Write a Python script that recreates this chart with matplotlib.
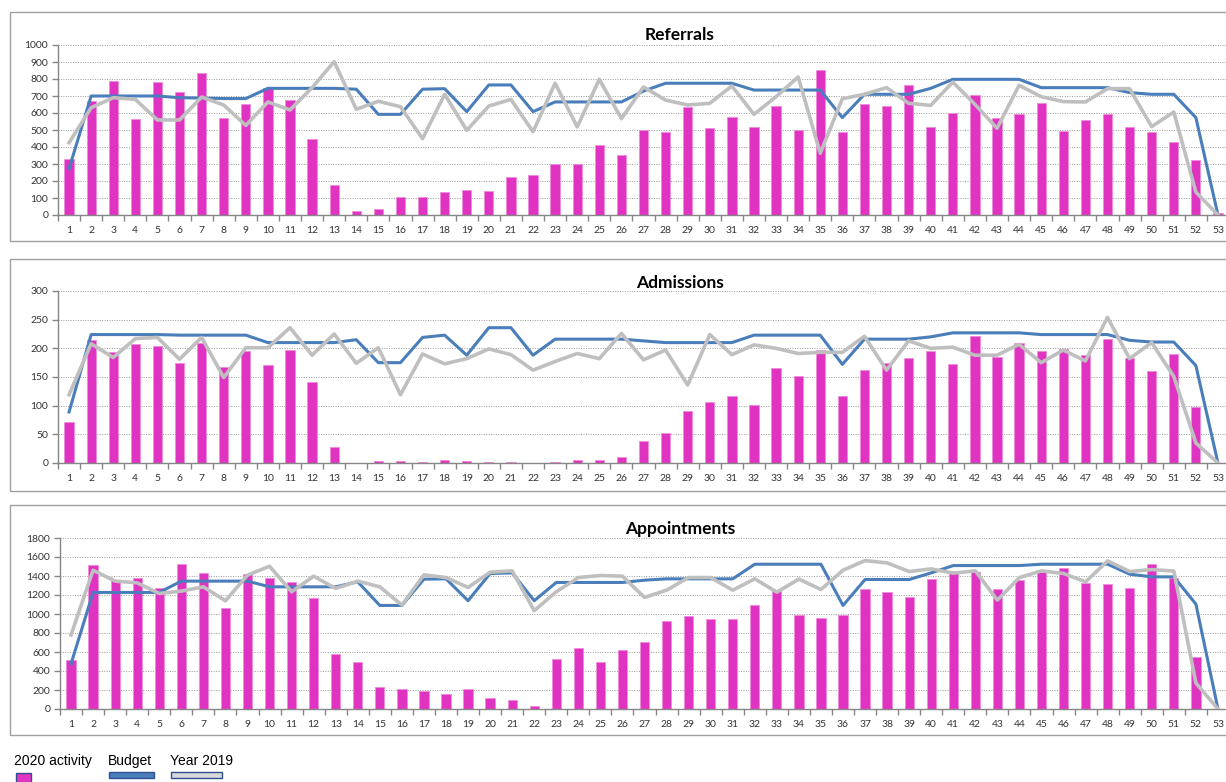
import matplotlib
matplotlib.use("Agg")
import matplotlib.pyplot as plt
from matplotlib.patches import Rectangle
from matplotlib.ticker import MultipleLocator, FixedLocator

weeks = list(range(1, 54))

# Referrals
ref_2020 = [331, 672, 788, 563, 782, 723, 837, 573, 651, 749, 678, 445, 176, 22, 37,
            106, 106, 137, 145, 141, 224, 237, 298, 298, 410, 353, 500, 486, 637, 510,
            575, 518, 643, 498, 855, 486, 651, 641, 763, 518, 600, 706, 573, 592, 661,
            494, 559, 592, 518, 490, 429, 322, 12]
ref_budget = [272, 700, 700, 700, 700, 690, 688, 685, 685, 745, 745, 745, 745, 740, 592,
              592, 740, 743, 608, 765, 765, 608, 665, 665, 665, 665, 729, 775, 775, 775,
              775, 735, 735, 735, 735, 573, 710, 710, 710, 745, 798, 798, 798, 798, 749,
              749, 749, 749, 720, 710, 710, 573, 0]
ref_2019 = [425, 631, 690, 680, 559, 559, 694, 647, 527, 665, 618, 749, 902, 622, 669,
            637, 449, 710, 498, 641, 680, 490, 775, 518, 798, 567, 753, 676, 647, 657,
            759, 592, 696, 812, 363, 684, 710, 749, 657, 645, 782, 651, 510, 763, 696,
            667, 665, 743, 743, 520, 606, 135, 0]

# Admissions
adm_2020 = [71, 214, 194, 207, 204, 174, 210, 168, 196, 171, 197, 142, 28, 0, 4,
            4, 2, 6, 4, 2, 2, 0, 2, 6, 5, 11, 38, 53, 91, 106,
            116, 102, 166, 151, 197, 116, 162, 174, 184, 195, 172, 221, 185, 210, 195,
            199, 189, 217, 184, 160, 190, 98, 0]
adm_budget = [89, 224, 224, 224, 224, 223, 223, 223, 223, 210, 210, 210, 210, 215, 175,
              175, 219, 223, 188, 236, 236, 188, 216, 216, 216, 216, 213, 210, 210, 210,
              210, 223, 223, 223, 223, 172, 216, 216, 216, 220, 227, 227, 227, 227, 224,
              224, 224, 224, 214, 211, 211, 170, 0]
adm_2019 = [119, 208, 184, 217, 219, 181, 219, 149, 201, 201, 236, 188, 225, 174, 201,
            119, 190, 173, 182, 199, 189, 162, 177, 191, 182, 226, 180, 197, 136, 224,
            189, 206, 200, 191, 193, 193, 221, 162, 213, 200, 202, 188, 188, 207, 175,
            197, 178, 254, 182, 210, 151, 35, 0]

# Appointments
app_2020 = [517, 1513, 1356, 1384, 1275, 1524, 1433, 1059, 1419, 1377, 1339, 1171, 580, 493, 231,
            206, 185, 157, 206, 115, 94, 31, 528, 640, 500, 626, 706, 923, 979, 951,
            951, 1098, 1244, 993, 961, 993, 1265, 1230, 1178, 1370, 1450, 1437, 1265, 1356, 1437,
            1482, 1325, 1311, 1272, 1531, 1384, 552, 0]
app_budget = [475, 1227, 1227, 1227, 1227, 1346, 1346, 1346, 1346, 1286, 1286, 1286, 1286, 1339, 1090,
              1090, 1367, 1370, 1140, 1426, 1433, 1140, 1332, 1332, 1332, 1332, 1356, 1370, 1370, 1370,
              1370, 1524, 1524, 1524, 1524, 1090, 1363, 1363, 1363, 1433, 1510, 1510, 1510, 1510, 1524,
              1524, 1524, 1524, 1419, 1391, 1391, 1104, 0]
app_2019 = [779, 1461, 1346, 1328, 1216, 1241, 1286, 1139, 1409, 1503, 1234, 1398, 1269, 1346, 1286,
            1094, 1412, 1384, 1279, 1440, 1454, 1035, 1234, 1384, 1405, 1398, 1174, 1251, 1384, 1384,
            1251, 1370, 1230, 1367, 1258, 1461, 1562, 1538, 1447, 1475, 1430, 1454, 1146, 1384, 1454,
            1426, 1339, 1559, 1447, 1468, 1451, 273, 0]

BAR = "#E033C2"
BLUE = "#4A7EBB"
GREY = "#BFBFBF"
AXIS = "#868686"

plt.rcParams["font.family"] = ["Lato", "DejaVu Sans"]

W, H = 1226, 782
fig = plt.figure(figsize=(W / 100, H / 100), dpi=100)


def px_box(x0, y0, x1, y1):
    # pixel box (top-left origin) -> figure fraction [left, bottom, width, height]
    return [x0 / W, 1 - y1 / H, (x1 - x0) / W, (y1 - y0) / H]


def panel(box, frame, title, title_y, bars, budget, last_year, ymax, step):
    fig.patches.append(Rectangle((frame[0] / W, 1 - frame[3] / H),
                                 (frame[2] - frame[0]) / W, (frame[3] - frame[1]) / H,
                                 transform=fig.transFigure, fill=False,
                                 edgecolor="#A0A0A0", lw=1.0))
    ax = fig.add_axes(px_box(*box))
    ax.bar(weeks, bars, width=0.42, color=BAR, edgecolor="#F08ADB", lw=0.6, zorder=2)
    ax.plot(weeks, budget, color=BLUE, lw=2.2, zorder=3)
    ax.plot(weeks, last_year, color=GREY, lw=2.6, zorder=4)

    ax.set_xlim(0.5, 53.5)
    ax.set_ylim(0, ymax)
    ax.yaxis.set_major_locator(MultipleLocator(step))
    ax.grid(axis="y", color="#9A9A9A", lw=0.7, ls=(0, (1, 1.5)), zorder=0)
    ax.set_axisbelow(True)
    for s in ("top", "right"):
        ax.spines[s].set_visible(False)
    for s in ("left", "bottom"):
        ax.spines[s].set_color(AXIS)
        ax.spines[s].set_linewidth(1.0)

    ax.set_xticks(weeks)
    ax.set_xticklabels([str(w) for w in weeks])
    ax.xaxis.set_minor_locator(FixedLocator([w + 0.5 for w in range(0, 54)]))
    ax.tick_params(axis="x", which="major", length=0, pad=8, labelsize=7.5, labelcolor="#333333")
    ax.tick_params(axis="x", which="minor", length=4, color=AXIS, width=1)
    ax.tick_params(axis="y", length=4, color=AXIS, width=1, labelsize=7.5,
                   labelcolor="#333333", pad=3)

    fig.text(680 / W, 1 - title_y / H, title, ha="center", va="center",
             fontsize=12.5, fontweight="bold", color="black")
    return ax


panel((58, 45, 1229, 215), (10, 12, 1300, 241), "Referrals", 35,
      ref_2020, ref_budget, ref_2019, 1000, 100)
panel((58, 291, 1229, 463), (10, 259, 1300, 491), "Admissions", 283,
      adm_2020, adm_budget, adm_2019, 300, 50)
panel((60, 538, 1229, 709), (10, 505, 1300, 735), "Appointments", 529,
      app_2020, app_budget, app_2019, 1800, 200)

# legend strip along the bottom
legend_font = ["Liberation Sans", "DejaVu Sans"]
fig.text(14 / W, 1 - 761 / H, "2020 activity", ha="left", va="center",
         fontsize=10, family=legend_font)
fig.text(108 / W, 1 - 761 / H, "Budget", ha="left", va="center",
         fontsize=10, family=legend_font)
fig.text(170 / W, 1 - 761 / H, "Year 2019", ha="left", va="center",
         fontsize=10, family=legend_font)
for (x0, y0, x1, y1), fc in [((16, 773, 31, 786), BAR),
                             ((109, 772, 154, 778), BLUE),
                             ((171, 772, 222, 778), "#D9D9D9")]:
    fig.patches.append(Rectangle((x0 / W, 1 - y1 / H), (x1 - x0) / W, (y1 - y0) / H,
                                 transform=fig.transFigure, facecolor=fc,
                                 edgecolor="#2F4F8F", lw=1.0))

fig.savefig("out.png", dpi=100)
